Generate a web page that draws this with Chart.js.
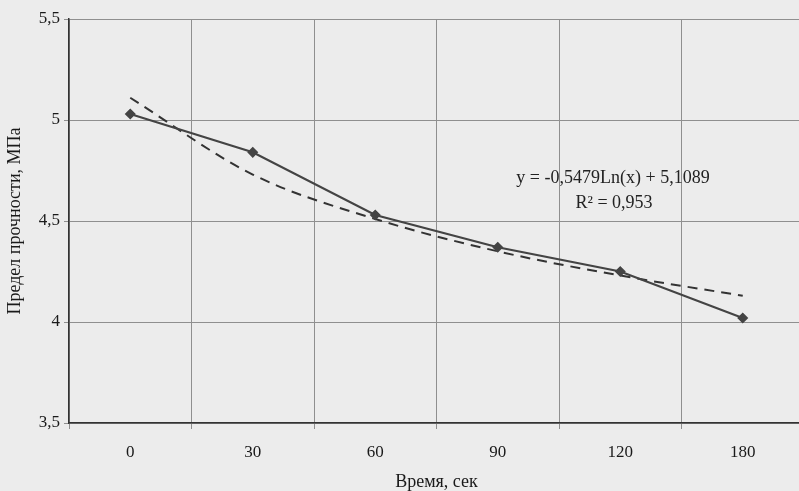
<!DOCTYPE html>
<html>
<head>
<meta charset="utf-8">
<script src="https://cdn.jsdelivr.net/npm/chart.js@4/dist/chart.umd.min.js"></script>
<style>
  html, body { margin: 0; padding: 0; background: #ececec; overflow: hidden; }
  #wrap { width: 799px; height: 491px; overflow: hidden; }
</style>
</head>
<body>
<div id="wrap"><canvas id="chart" width="812" height="491"></canvas></div>
<script>
// data
const categories = ['0', '30', '60', '90', '120', '180'];
const strength = [5.03, 4.84, 4.53, 4.37, 4.25, 4.02];
const trend = [5.11, 4.73, 4.51, 4.35, 4.23, 4.13];
const yTicks = [3.5, 4, 4.5, 5, 5.5];
const trendLabel = ['y = -0,5479Ln(x) + 5,1089', 'R² = 0,953'];

const serif = '"Liberation Serif", "Times New Roman", serif';

// paper-like background
const bgPlugin = {
    id: 'bg',
    beforeDraw(chart) {
        const c = chart.ctx;
        c.save();
        c.fillStyle = '#ececec';
        c.fillRect(0, 0, chart.width, chart.height);
        c.restore();
    }
};

// trendline equation, as Excel puts it
const eqPlugin = {
    id: 'eq',
    afterDraw(chart) {
        const c = chart.ctx;
        c.save();
        c.font = '18px ' + serif;
        c.fillStyle = '#222';
        c.textAlign = 'center';
        c.textBaseline = 'middle';
        c.fillText(trendLabel[0], 613, 178);
        c.fillText(trendLabel[1], 614, 203);
        c.restore();
    }
};

const ctx = document.getElementById('chart').getContext('2d');
new Chart(ctx, {
    type: 'line',
    data: {
        labels: categories,
        datasets: [{
            label: 'Предел прочности',
            data: strength,
            borderColor: '#444',
            backgroundColor: '#444',
            borderWidth: 2.2,
            pointStyle: 'rectRot',
            pointRadius: 4,
            tension: 0
        }, {
            label: 'Логарифмическая',
            data: trend,
            borderColor: '#333',
            borderWidth: 2,
            borderDash: [10, 7],
            pointRadius: 0,
            cubicInterpolationMode: 'monotone'
        }]
    },
    options: {
        responsive: false,
        devicePixelRatio: 1,
        animation: false,
        layout: { padding: { left: 0, top: 19, right: 8, bottom: 0 } },
        plugins: { legend: { display: false }, tooltip: { enabled: false } },
        scales: {
            x: {
                offset: true,
                grid: { offset: true, color: '#8f8f8f', lineWidth: 1, tickLength: 6 },
                border: { color: '#333', width: 1.5 },
                ticks: { color: '#1a1a1a', padding: 13, font: { family: serif, size: 17 } },
                title: { display: true, text: 'Время, сек', color: '#1a1a1a',
                         padding: { top: 0, bottom: 0 },
                         font: { family: serif, size: 18, lineHeight: 1 } },
                afterFit(scale) { scale.height = 68; }
            },
            y: {
                min: 3.5,
                max: 5.5,
                afterBuildTicks(scale) { scale.ticks = yTicks.map(v => ({ value: v })); },
                grid: { color: '#8f8f8f', lineWidth: 1, tickLength: 5 },
                border: { color: '#333', width: 1.5 },
                ticks: {
                    color: '#1a1a1a', padding: 4, font: { family: serif, size: 17 },
                    callback: v => String(v).replace('.', ',')
                },
                title: { display: true, text: 'Предел прочности, МПа', color: '#1a1a1a',
                         padding: { top: 6, bottom: 0 },
                         font: { family: serif, size: 18, lineHeight: 1 } },
                afterFit(scale) { scale.width = 69; }
            }
        }
    },
    plugins: [bgPlugin, eqPlugin]
});
</script>
</body>
</html>
